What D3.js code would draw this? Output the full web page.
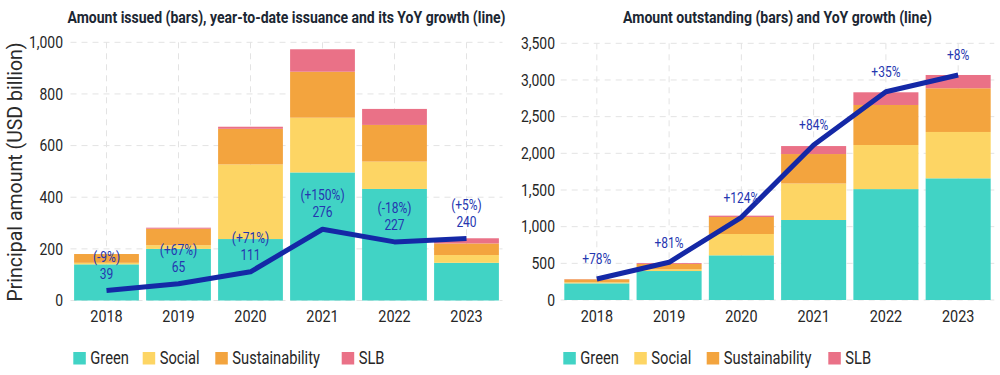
<!DOCTYPE html>
<html>
<head>
<meta charset="utf-8">
<script src="https://cdn.jsdelivr.net/npm/d3@7"></script>
<style>
  html, body { margin: 0; padding: 0; background: #fff; }
  svg { display: block; }
  text { font-family: Roboto, "Noto Sans", sans-serif; }
</style>
</head>
<body>
<svg id="chart" width="1000" height="375"></svg>
<script>
// ---------- DATA ----------
const years = ["2018", "2019", "2020", "2021", "2022", "2023"];
const seriesNames = ["Green", "Social", "Sustainability", "SLB"];
const seriesColors = ["#41d3c5", "#fdd564", "#f3a43e", "#ea7187"];

// Left: amount issued (USD billion)
const issuedGreen = [140, 200, 238, 496, 432, 146];
const issuedSocial = [6, 14, 289, 212, 106, 30];
const issuedSustainability = [34, 64, 138, 178, 142, 45];
const issuedSLB = [0, 4, 8, 87, 62, 20];
const ytdIssuance = [39, 65, 111, 276, 227, 240];
const ytdGrowthLabels = ["(-9%)", "(+67%)", "(+71%)", "(+150%)", "(-18%)", "(+5%)"];
const leftTicks = [0, 200, 400, 600, 800, 1000];

// Right: amount outstanding (USD billion)
const outGreen = [227, 395, 609, 1091, 1512, 1659];
const outSocial = [14, 24, 291, 497, 601, 632];
const outSustainability = [41, 72, 232, 402, 546, 596];
const outSLB = [3, 12, 18, 109, 173, 181];
const outLine = [286, 514, 1128, 2113, 2840, 3068];
const outGrowthLabels = ["+78%", "+81%", "+124%", "+84%", "+35%", "+8%"];
const rightTicks = [0, 500, 1000, 1500, 2000, 2500, 3000, 3500];

// ---------- HELPERS ----------
const svg = d3.select("#chart");
const LINE_COLOR = "#1428a6";
const LABEL_COLOR = "#2536b0";
const TEXT_COLOR = "#262626";
const fmt = d3.format(",");

function condense(sel, f) {
  sel.each(function () {
    const w = this.getComputedTextLength();
    if (w > 0) {
      d3.select(this).attr("textLength", w * f).attr("lengthAdjust", "spacingAndGlyphs");
    }
  });
}

function drawPanel(cfg) {
  const g = svg.append("g");
  const x = d3.scaleBand().domain(years).range(cfg.xRange).paddingInner(0.1).paddingOuter(0.05);
  const y = d3.scaleLinear().domain(cfg.yDomain).range(cfg.yRange);
  const [x0, x1] = cfg.xRange;
  const cx = d => x(d) + x.bandwidth() / 2;

  // gridlines
  g.append("g").selectAll("line.h").data(cfg.ticks).join("line")
    .attr("x1", x0).attr("x2", x1)
    .attr("y1", d => y(d)).attr("y2", d => y(d))
    .attr("stroke", "#e3e3e3").attr("stroke-width", 1).attr("stroke-dasharray", "6,5");
  g.append("g").selectAll("line.v").data(years).join("line")
    .attr("x1", d => cx(d)).attr("x2", d => cx(d))
    .attr("y1", y(cfg.yDomain[1])).attr("y2", y(0))
    .attr("stroke", "#e3e3e3").attr("stroke-width", 1).attr("stroke-dasharray", "6,5");

  // stacked bars
  const rows = years.map((yr, i) => {
    const r = { year: yr };
    seriesNames.forEach((s, k) => r[s] = cfg.series[k][i]);
    return r;
  });
  const stacked = d3.stack().keys(seriesNames)(rows);
  g.append("g").selectAll("g").data(stacked).join("g")
    .attr("fill", (d, k) => seriesColors[k])
    .selectAll("rect").data(d => d).join("rect")
    .attr("x", d => x(d.data.year))
    .attr("width", x.bandwidth())
    .attr("y", d => y(d[1]))
    .attr("height", d => Math.max(0, y(d[0]) - y(d[1])));

  // line
  const line = d3.line().x((d, i) => cx(years[i])).y(d => y(d));
  g.append("path").datum(cfg.line)
    .attr("d", line).attr("fill", "none")
    .attr("stroke", LINE_COLOR).attr("stroke-width", 5)
    .attr("stroke-linejoin", "round");

  // line labels
  cfg.labels(g, x, y, cx);

  // y tick labels
  const yt = g.append("g").selectAll("text").data(cfg.ticks).join("text")
    .attr("x", cfg.yLabelX).attr("y", d => y(d)).attr("dy", "0.36em")
    .attr("text-anchor", "end").attr("font-size", 16).attr("fill", TEXT_COLOR)
    .text(d => fmt(d));
  condense(yt, 0.87);

  // x tick labels
  const xt = g.append("g").selectAll("text").data(years).join("text")
    .attr("x", d => cx(d)).attr("y", 321.5)
    .attr("text-anchor", "middle").attr("font-size", 16).attr("fill", TEXT_COLOR)
    .text(d => d);
  condense(xt, 0.9);

  // title
  g.append("text")
    .attr("x", (x0 + x1) / 2).attr("y", 23)
    .attr("text-anchor", "middle").attr("font-size", 16).attr("font-weight", 700)
    .attr("fill", "#1c2733")
    .attr("textLength", cfg.titleWidth).attr("lengthAdjust", "spacingAndGlyphs")
    .text(cfg.title);

  // legend
  const lg = g.append("g");
  seriesNames.forEach((s, k) => {
    lg.append("rect").attr("x", cfg.legendX[k]).attr("y", 352)
      .attr("width", 12.5).attr("height", 12.5).attr("fill", seriesColors[k]);
    const t = lg.append("text").attr("x", cfg.legendX[k] + 17).attr("y", 363.5)
      .attr("font-size", 17.5).attr("fill", TEXT_COLOR).text(s);
    condense(t, 0.84);
  });
}

// ---------- LEFT PANEL ----------
drawPanel({
  xRange: [70.5, 502.5],
  yDomain: [0, 1000],
  yRange: [300.5, 42.3],
  ticks: leftTicks,
  series: [issuedGreen, issuedSocial, issuedSustainability, issuedSLB],
  line: ytdIssuance,
  yLabelX: 63,
  title: "Amount issued (bars), year-to-date issuance and its YoY growth (line)",
  titleWidth: 438,
  legendX: [73.3, 142.7, 215.3, 341.7],
  labels: (g, x, y, cx) => {
    const v = g.append("g").selectAll("text").data(ytdIssuance).join("text")
      .attr("x", (d, i) => cx(years[i])).attr("y", d => y(d) - 17).attr("dy", "0.35em")
      .attr("text-anchor", "middle").attr("font-size", 15).attr("fill", LABEL_COLOR)
      .text(d => d);
    condense(v, 0.8);
    const p = g.append("g").selectAll("text").data(ytdIssuance).join("text")
      .attr("x", (d, i) => cx(years[i])).attr("y", d => y(d) - 34).attr("dy", "0.35em")
      .attr("text-anchor", "middle").attr("font-size", 15).attr("fill", LABEL_COLOR)
      .text((d, i) => ytdGrowthLabels[i]);
    condense(p, 0.8);
  }
});

// ---------- RIGHT PANEL ----------
drawPanel({
  xRange: [560.7, 994.3],
  yDomain: [0, 3500],
  yRange: [300, 43.3],
  ticks: rightTicks,
  series: [outGreen, outSocial, outSustainability, outSLB],
  line: outLine,
  yLabelX: 555,
  title: "Amount outstanding (bars) and YoY growth (line)",
  titleWidth: 309,
  legendX: [563.3, 634.3, 706.7, 828.3],
  labels: (g, x, y, cx) => {
    const p = g.append("g").selectAll("text").data(outLine).join("text")
      .attr("x", (d, i) => cx(years[i])).attr("y", d => y(d) - 20).attr("dy", "0.35em")
      .attr("text-anchor", "middle").attr("font-size", 15).attr("fill", LABEL_COLOR)
      .text((d, i) => outGrowthLabels[i]);
    condense(p, 0.8);
  }
});

// y-axis title (left)
svg.append("text")
  .attr("transform", "translate(22,172) rotate(-90)")
  .attr("text-anchor", "middle").attr("font-size", 19.5).attr("fill", "#2a2a2a")
  .text("Principal amount (USD billion)");
</script>
</body>
</html>
